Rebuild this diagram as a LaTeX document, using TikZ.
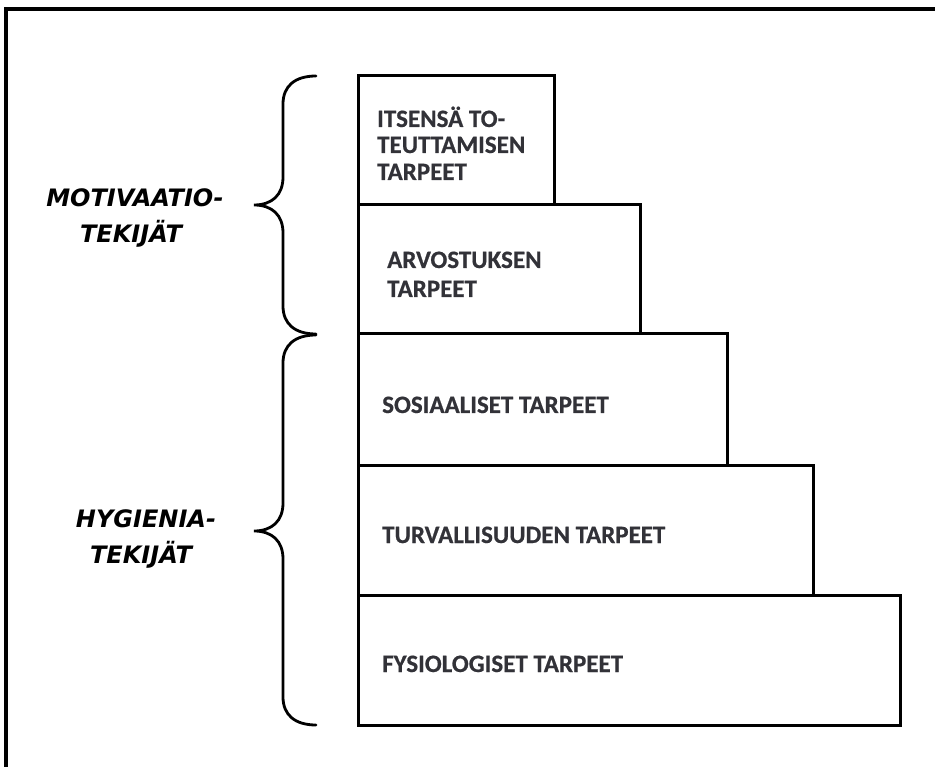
\documentclass[tikz,border=0pt]{standalone}
\usepackage{fontspec}
\setmainfont{Carlito}[BoldFeatures={FakeBold=0.6}]
\newfontfamily\labelfont{DejaVu Sans}
\definecolor{txtgray}{RGB}{50,50,56}
\tikzset{
  stepbox/.style={draw=black, line width=3pt, fill=white, inner sep=0pt, outer sep=0pt, anchor=north west},
  boxtext/.style={inner sep=0pt, anchor=base west, text=txtgray, font=\fontsize{25}{28}\selectfont\bfseries},
  sidelabel/.style={inner sep=0pt, anchor=base, text=black, font=\labelfont\fontsize{24}{28}\selectfont\bfseries\itshape},
  bracestyle/.style={draw=black, line width=2.8pt, line cap=round},
  framestyle/.style={draw=black, line width=3.2pt}
}
\begin{document}
\begin{tikzpicture}[x=1pt,y=-1pt]
\useasboundingbox (0,0) rectangle (935,767);
\fill[white] (0,0) rectangle (935,767);
% frame
\draw[framestyle] (6,767) -- (6,9) -- (935,9);
% boxes
\node[stepbox, minimum width=542pt, minimum height=130pt] (b5) at (358,595) {};
\node[stepbox, minimum width=455pt, minimum height=130pt] (b4) at (358,465) {};
\node[stepbox, minimum width=369pt, minimum height=131pt] (b3) at (358,334) {};
\node[stepbox, minimum width=282pt, minimum height=129pt] (b2) at (358,205) {};
\node[stepbox, minimum width=196pt, minimum height=129pt] (b1) at (358,76) {};
% box texts
\node[boxtext] (t1a) at (377,127) {ITSENSÄ TO-};
\node[boxtext] (t1b) at (377,153) {TEUTTAMISEN};
\node[boxtext] (t1c) at (377,180) {TARPEET};
\node[boxtext] (t2a) at (387,268) {ARVOSTUKSEN};
\node[boxtext] (t2b) at (387,297) {TARPEET};
\node[boxtext] (t3) at (382,413) {SOSIAALISET TARPEET};
\node[boxtext] (t4) at (382,543) {TURVALLISUUDEN TARPEET};
\node[boxtext] (t5) at (382,672) {FYSIOLOGISET TARPEET};
% braces
\draw[bracestyle] (316,76) .. controls (295,76) and (283,86) .. (283,104) -- (283,177)
  .. controls (283,195) and (272,205) .. (254,205)
  .. controls (272,205) and (283,215) .. (283,233) -- (283,306)
  .. controls (283,324) and (295,334) .. (316,334);
\draw[bracestyle] (316,335) .. controls (295,335) and (283,345) .. (283,363) -- (283,503)
  .. controls (283,521) and (272,531) .. (254,531)
  .. controls (272,531) and (283,541) .. (283,559) -- (283,697)
  .. controls (283,715) and (295,725) .. (316,725);
% side labels
\node[sidelabel] (m1) at (135,207) {MOTIVAATIO-};
\node[sidelabel] (m2) at (131,243) {TEKIJÄT};
\node[sidelabel] (h1) at (146,527) {HYGIENIA-};
\node[sidelabel] (h2) at (141,563) {TEKIJÄT};
\end{tikzpicture}
\end{document}
